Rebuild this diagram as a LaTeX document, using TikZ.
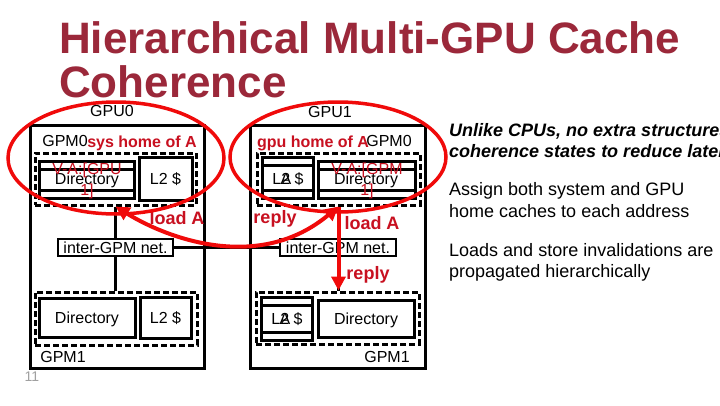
\documentclass[tikz,border=0pt]{standalone}
\usepackage{fontspec}
\setmainfont{Liberation Sans}
\usetikzlibrary{arrows.meta,shapes.geometric,calc}
\definecolor{titlered}{RGB}{155,40,58}
\definecolor{lblred}{RGB}{200,16,32}
\definecolor{arrred}{RGB}{240,10,10}
\definecolor{numgray}{RGB}{160,160,160}
\tikzset{
  lbl/.style={font=\fontsize{16}{16}\selectfont, inner sep=0pt, text height=11.5pt, text depth=0pt},
  rlbl/.style={lbl, font=\fontsize{16}{16}\selectfont\bfseries, text=lblred},
  rbig/.style={font=\fontsize{18}{18}\selectfont\bfseries, text=lblred, inner sep=0pt, text height=13pt, text depth=0pt},
  vlbl/.style={lbl, text=lblred},
  gpubox/.style={draw, line width=3pt, inner sep=0pt},
  dashbox/.style={draw, line width=3pt, dash pattern=on 6pt off 3pt, inner sep=0pt},
  unitbox/.style={draw, line width=3pt, inner sep=0pt, font=\fontsize{16}{16}\selectfont},
  netbox/.style={draw, line width=2.5pt, inner sep=0pt, font=\fontsize{16}{16}\selectfont, text height=11.5pt, text depth=0pt},
  stripes/.style={path picture={\draw[line width=3pt]
      ([yshift=-8pt]path picture bounding box.north west) -- ([yshift=-8pt]path picture bounding box.north east)
      ([yshift=8pt]path picture bounding box.south west) -- ([yshift=8pt]path picture bounding box.south east);}},
  wire/.style={line width=3pt},
  redring/.style={draw=arrred, line width=3.5pt, ellipse, inner sep=0pt},
  redarrow/.style={draw=arrred, line width=4pt},
  tip/.tip={Triangle[length=14pt,width=14pt]},
  body/.style={font=\fontsize{18}{18}\selectfont, anchor=base west, inner sep=0pt},
  titletext/.style={anchor=base west, inner sep=0pt, text=titlered, font=\fontsize{44}{44}\selectfont\bfseries},
}
\begin{document}
\begin{tikzpicture}[x=1pt,y=-1pt]
\clip (0,0) rectangle (720,405);
\fill[white] (0,0) rectangle (720,405);

% title
\node[titletext] (title1) at (59,53) {Hierarchical Multi-GPU Cache};
\node[titletext] (title2) at (59,97) {Coherence};

% ---------- GPU0 ----------
\node[gpubox, minimum width=174pt, minimum height=243pt] (gpu0) at (117,246.5) {};
\node[lbl] (gpu0lbl) at (112,111) {GPU0};
\node[lbl] (gpm00) at (65,141) {GPM0};
\node[dashbox, minimum width=161pt, minimum height=52pt] (dash0a) at (115.5,179) {};
\node[unitbox, stripes, minimum width=95pt, minimum height=37pt] (dir0a) at (86.5,179.5) {};
\node[lbl] (dir0atxt) at (87,179) {Directory};
\node[unitbox, minimum width=53pt, minimum height=43pt] (l20a) at (165.5,178.5) {};
\node[lbl] (l20atxt) at (165.5,179) {L2 \$};
\node[netbox, minimum width=115pt, minimum height=17pt] (net0) at (115.5,247.5) {inter-GPM net.};
\node[dashbox, minimum width=162pt, minimum height=53pt] (dash0b) at (116,318.5) {};
\node[unitbox, minimum width=96pt, minimum height=39pt] (dir0b) at (87,317.5) {};
\node[lbl] (dir0btxt) at (87,318) {Directory};
\node[unitbox, minimum width=51pt, minimum height=41pt] (l20b) at (165.5,317.5) {};
\node[lbl] (l20btxt) at (165.5,318) {L2 \$};
\node[lbl] (gpm01) at (63,357) {GPM1};
\draw[wire] (dash0a.south) -- (dash0a.south |- net0.north);
\draw[wire] (net0.south) -- (net0.south |- dash0b.north);

% ---------- GPU1 ----------
\node[gpubox, minimum width=175pt, minimum height=243pt] (gpu1) at (337.5,246.5) {};
\node[lbl] (gpu1lbl) at (330,112) {GPU1};
\node[lbl] (gpm10) at (389,141) {GPM0};
\node[dashbox, minimum width=163pt, minimum height=52pt] (dash1a) at (338.5,179) {};
\node[unitbox, stripes, minimum width=51pt, minimum height=41pt] (l21a) at (287.5,177.5) {};
\node[lbl] (l21atxt) at (288,179) {L2 \$};
\node[lbl] (l21aA) at (286,179) {A};
\node[unitbox, stripes, minimum width=97pt, minimum height=37pt] (dir1a) at (366.5,179.5) {};
\node[lbl] (dir1atxt) at (366,179) {Directory};
\node[netbox, minimum width=116pt, minimum height=17pt] (net1) at (338,247.5) {inter-GPM net.};
\node[dashbox, minimum width=163pt, minimum height=52pt] (dash1b) at (337.5,318) {};
\node[unitbox, stripes, minimum width=51pt, minimum height=43pt] (l21b) at (286.5,318.5) {};
\node[lbl] (l21btxt) at (287,319) {L2 \$};
\node[lbl] (l21bA) at (285,319) {A};
\node[unitbox, minimum width=96pt, minimum height=37pt] (dir1b) at (366,318.5) {};
\node[lbl] (dir1btxt) at (366,319) {Directory};
\node[lbl] (gpm11) at (387,357) {GPM1};
\draw[wire] (dash1a.south) -- (dash1a.south |- net1.north);
\draw[wire] (net1.south) -- (net1.south |- dash1b.north);

% link between GPUs
\draw[wire] (net0.east) -- (net1.west);

% ---------- red labels ----------
\node[rlbl] (sys) at (142,142) {sys home of A};
\node[rlbl] (gpuh) at (313,142) {gpu home of A};
\node[vlbl] (va0) at (87,169) {V-A:[GPU};
\node[vlbl] (va0b) at (87,190) {1]};
\node[vlbl] (va1) at (367,169) {V-A:[GPM};
\node[vlbl] (va1b) at (367,190) {1]};
\node[rbig] (load0) at (177,218) {load A};
\node[rbig] (reply0) at (275,217) {reply};
\node[rbig] (load1) at (372,223) {load A};
\node[rbig] (reply1) at (368,273) {reply};

% ---------- red marks ----------
\node[redring, minimum width=216pt, minimum height=112pt] (ring0) at (116,158) {};
\node[redring, minimum width=216pt, minimum height=110pt] (ring1) at (338,157) {};
\draw[redarrow, {tip}-{tip}] (dash0a.south) .. controls (170,240) and (260,272) .. (dash1a.south);
\draw[redarrow, -{tip}] (dash1a.south) -- (dash1a.south |- dash1b.north);

% page number
\node[lbl, font=\fontsize{14}{14}\selectfont, text height=10pt, text=numgray] (pagenum) at (32,376) {11};

% ---------- right text ----------
\node[body, font=\fontsize{18}{18}\selectfont\bfseries\itshape] (t1) at (449,136) {Unlike CPUs, no extra structures or};
\node[body, font=\fontsize{18}{18}\selectfont\bfseries\itshape] (t2) at (449,157) {coherence states to reduce latency};
\node[body] (t3) at (449,195) {Assign both system and GPU};
\node[body] (t4) at (449,217) {home caches to each address};
\node[body] (t5) at (449,256) {Loads and store invalidations are};
\node[body] (t6) at (449,277) {propagated hierarchically};
\end{tikzpicture}
\end{document}
